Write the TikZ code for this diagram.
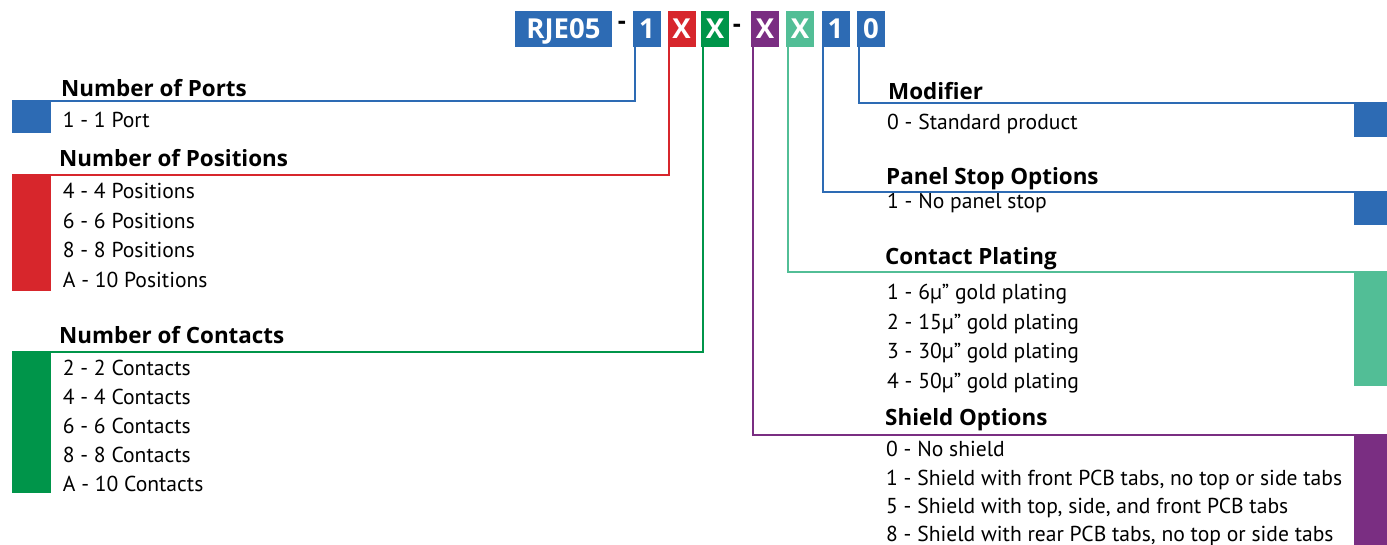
\documentclass[tikz,border=0pt]{standalone}
\usepackage{fontspec}
\setmainfont{PT Sans}
\newfontfamily\headfam{Open Sans}
\usetikzlibrary{positioning}
\definecolor{cblue}{HTML}{2D6BB4}
\definecolor{cred}{HTML}{D7262C}
\definecolor{cgreen}{HTML}{00954A}
\definecolor{cpurple}{HTML}{7A2E82}
\definecolor{cteal}{HTML}{52BE96}
\tikzset{
  codebox/.style={
    fill=#1, text=white, font=\headfam\fontsize{27.5}{30}\selectfont\bfseries,
    minimum width=28, minimum height=36, inner sep=0pt,
    text height=19.5, text depth=0
  },
  dashlbl/.style={font=\headfam\fontsize{25}{30}\selectfont\bfseries, inner sep=0pt},
  optblock/.style={fill=#1, inner sep=0pt, minimum width=39},
  opthead/.style={anchor=base west, inner sep=0pt, font=\headfam\fontsize{22.4}{26}\selectfont\bfseries},
  optitem/.style={anchor=base west, inner sep=0pt, font=\fontsize{21.6}{25}\selectfont},
  leader/.style={draw=#1, line width=1.7pt}
}

\begin{document}
\begin{tikzpicture}[x=1pt, y=-1pt]
  \useasboundingbox (0,0) rectangle (1387,545);
  \clip (0,0) rectangle (1387,545);

  % ---- Part number code ---------------------------------------------------
  \node[codebox=cblue, minimum width=97] (rje) at (563.5,29) {RJE05};
  \foreach \nm/\x/\col/\lbl in {c1/647/cblue/1, c2/681.5/cred/X, c3/715/cgreen/X,
      c4/765/cpurple/X, c5/800/cteal/X, c6/835.5/cblue/1, c7/871/cblue/0}
    \node[codebox=\col] (\nm) at (\x,29) {\lbl};
  \node[dashlbl] (d1) at (622,25) {-};
  \node[dashlbl] (d2) at (737,28) {-};

  % ---- Left: Number of Ports ----------------------------------------------
  \node[opthead] (portshd) at (61,96.7) {Number of Ports};
  \node[optblock=cblue, minimum height=32, anchor=north west] (portsblk) at (12,101) {};
  \node[optitem] (ports0) at (62.7,127.3) {1 - 1 Port};
  \draw[leader=cblue] ([xshift=2]c1.south west) |- (portsblk.north west);

  % ---- Left: Number of Positions ------------------------------------------
  \node[opthead] (poshd) at (59,166.7) {Number of Positions};
  \node[optblock=cred, minimum height=116, anchor=north west] (posblk) at (12,175) {};
  \foreach \t [count=\i from 0] in {4 - 4 Positions, 6 - 6 Positions,
      8 - 8 Positions, A - 10 Positions}
    \node[optitem] (pos\i) at (62.7,199+29.5*\i) {\t};
  \draw[leader=cred] ([xshift=2]c2.south west) |- (posblk.north west);

  % ---- Left: Number of Contacts -------------------------------------------
  \node[opthead] (conhd) at (59,344) {Number of Contacts};
  \node[optblock=cgreen, minimum height=141, anchor=north west] (conblk) at (12,352) {};
  \foreach \t [count=\i from 0] in {2 - 2 Contacts, 4 - 4 Contacts, 6 - 6 Contacts,
      8 - 8 Contacts, A - 10 Contacts}
    \node[optitem] (con\i) at (62.7,375+29.2*\i) {\t};
  \draw[leader=cgreen] ([xshift=2]c3.south west) |- (conblk.north west);

  % ---- Right: Modifier ----------------------------------------------------
  \node[opthead] (modhd) at (888,100) {Modifier};
  \node[optblock=cblue, minimum width=33, minimum height=34, anchor=north east] (modblk) at (1387,103) {};
  \node[optitem] (mod0) at (887,130) {0 - Standard product};
  \draw[leader=cblue] ([xshift=2]c7.south west) |- (modblk.north east);

  % ---- Right: Panel Stop Options ------------------------------------------
  \node[opthead] (panhd) at (886,185) {Panel Stop Options};
  \node[optblock=cblue, minimum width=33, minimum height=33, anchor=north east] (panblk) at (1387,192) {};
  \node[optitem] (pan0) at (887,208.3) {1 - No panel stop};
  \draw[leader=cblue] ([xshift=2]c6.south west) |- (panblk.north east);

  % ---- Right: Contact Plating ---------------------------------------------
  \node[opthead] (plthd) at (885,265) {Contact Plating};
  \node[optblock=cteal, minimum width=33, minimum height=114, anchor=north east] (pltblk) at (1387,272) {};
  \foreach \t [count=\i from 0] in {1 - 6µ” gold plating, 2 - 15µ” gold plating,
      3 - 30µ” gold plating, 4 - 50µ” gold plating}
    \node[optitem] (plt\i) at (887,300+29.4*\i) {\t};
  \draw[leader=cteal] ([xshift=2]c5.south west) |- (pltblk.north east);

  % ---- Right: Shield Options ----------------------------------------------
  \node[opthead] (shdhd) at (885,425) {Shield Options};
  \node[optblock=cpurple, minimum width=33, minimum height=120, anchor=north east] (shdblk) at (1387,435) {};
  \foreach \t [count=\i from 0] in {{0 - No shield},
      {1 - Shield with front PCB tabs, no top or side tabs},
      {5 - Shield with top, side, and front PCB tabs},
      {8 - Shield with rear PCB tabs, no top or side tabs}}
    \node[optitem] (shd\i) at (886,456.7+28.4*\i) {\t};
  \draw[leader=cpurple] ([xshift=2]c4.south west) |- (shdblk.north east);

\end{tikzpicture}
\end{document}
